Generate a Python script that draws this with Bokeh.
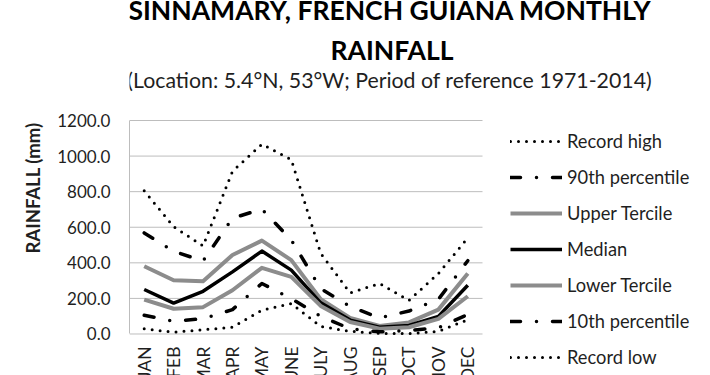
from bokeh.plotting import figure
from bokeh.models import (Range1d, FixedTicker, NumeralTickFormatter, Legend, LegendItem,
                          Label, LabelSet, ColumnDataSource)
from bokeh.core.properties import value
from bokeh.embed import file_html
from bokeh.resources import INLINE

months = ["JAN", "FEB", "MAR", "APR", "MAY", "JUNE", "JULY", "AUG", "SEP", "OCT", "NOV", "DEC"]
record_high = [805, 603, 495, 914, 1067, 980, 453, 231, 284, 189, 340, 540]
pct90 = [568, 465, 410, 651, 702, 528, 255, 155, 90, 129, 195, 412]
upper_tercile = [381, 302, 297, 444, 525, 415, 195, 90, 45, 65, 137, 340]
median = [250, 174, 240, 349, 466, 359, 175, 78, 38, 48, 99, 274]
lower_tercile = [193, 142, 151, 246, 372, 321, 158, 67, 30, 38, 85, 212]
pct10 = [105, 72, 86, 137, 284, 199, 100, 29, 12, 20, 35, 110]
record_low = [29, 10, 24, 38, 133, 171, 42, 15, 3, 2, 15, 80]
y_ticks = [0, 200, 400, 600, 800, 1000, 1200]

FONT = "Lato"
TXT = "#1f1f1f"
GRAY = "#8c8c8c"
GRID = "#bdbdbd"

xs = list(range(len(months)))
x_lo, x_hi = -0.5, len(months) - 0.5

# plot area spans the month slots; the drawing surface extends right (legend) and up (titles)
p = figure(x_range=Range1d(x_lo, 19.25), y_range=Range1d(-233.3, 1874.5), width=710, height=375,
           output_backend="svg", toolbar_location=None, title=None,
           min_border_left=129, min_border_right=0, min_border_top=0, min_border_bottom=0)
p.outline_line_color = None
p.background_fill_color = "white"
p.border_fill_color = "white"

p.xaxis.visible = False
p.xgrid.visible = False
p.ygrid.visible = False

# horizontal gridlines over the month slots only
p.segment(x0=[x_lo] * len(y_ticks), x1=[x_hi] * len(y_ticks), y0=y_ticks, y1=y_ticks,
          line_color=GRID, line_width=1)

ya = p.yaxis[0]
ya.ticker = FixedTicker(ticks=y_ticks)
ya.bounds = (y_ticks[0], y_ticks[-1])
ya.formatter = NumeralTickFormatter(format="0.0")
ya.axis_line_color = GRID
ya.major_tick_line_color = None
ya.minor_tick_line_color = None
ya.major_tick_out = 0
ya.major_tick_in = 0
ya.major_label_standoff = 19
ya.major_label_text_font = FONT
ya.major_label_text_font_size = "17px"
ya.major_label_text_color = TXT
ya.axis_label = "RAINFALL (mm)"
ya.axis_label_text_font = FONT
ya.axis_label_text_font_size = "18.5px"
ya.axis_label_text_font_style = "bold"
ya.axis_label_text_color = TXT
ya.axis_label_standoff = 10

series = [
    ("Record high", record_high, dict(line_color="black", line_width=3, line_dash="0 8", line_cap="round")),
    ("90th percentile", pct90, dict(line_color="black", line_width=3.5, line_dash="10 16 0 16", line_cap="round")),
    ("Upper Tercile", upper_tercile, dict(line_color=GRAY, line_width=4)),
    ("Median", median, dict(line_color="black", line_width=3.5)),
    ("Lower Tercile", lower_tercile, dict(line_color=GRAY, line_width=4)),
    ("10th percentile", pct10, dict(line_color="black", line_width=3.5, line_dash="10 16 0 16", line_cap="round")),
    ("Record low", record_low, dict(line_color="black", line_width=3, line_dash="0 8", line_cap="round")),
]
items = []
for name, vals, style in series:
    r = p.line(x=xs, y=vals, line_join="round", **style)
    items.append(LegendItem(label=name, renderers=[r]))

legend = Legend(items=items, location=(381, 0), orientation="vertical",
                glyph_width=52, glyph_height=36, label_height=36, label_standoff=5,
                spacing=0, padding=0, margin=0, border_line_color=None,
                background_fill_alpha=0, label_text_font=FONT,
                label_text_font_size="18.3px", label_text_color=TXT)
p.add_layout(legend, "center")

# month labels under the zero line
msrc = ColumnDataSource(data=dict(x=xs, m=months))
mlabels = LabelSet(x="x", y=29, y_units="screen", text="m", source=msrc, angle=1.5708,
                   text_align="right", text_baseline="middle", text_font=value(FONT),
                   text_font_size="17.5px", text_color=TXT)
p.add_layout(mlabels)

p.add_layout(Label(x=260.5, y=365.5, x_units="screen", y_units="screen",
                   text="SINNAMARY, FRENCH GUIANA MONTHLY", text_align="center",
                   text_baseline="alphabetic", text_font=FONT, text_font_size="26.5px",
                   text_font_style="bold", text_color="black"))
p.add_layout(Label(x=262.5, y=325.7, x_units="screen", y_units="screen",
                   text="RAINFALL", text_align="center",
                   text_baseline="alphabetic", text_font=FONT, text_font_size="26.5px",
                   text_font_style="bold", text_color="black"))
p.add_layout(Label(x=260.2, y=295.5, x_units="screen", y_units="screen",
                   text="(Location: 5.4°N, 53°W; Period of reference 1971-2014)", text_align="center",
                   text_baseline="alphabetic", text_font=FONT, text_font_size="21.3px",
                   text_color=TXT))

open("out.html", "w").write(file_html(p, INLINE))
